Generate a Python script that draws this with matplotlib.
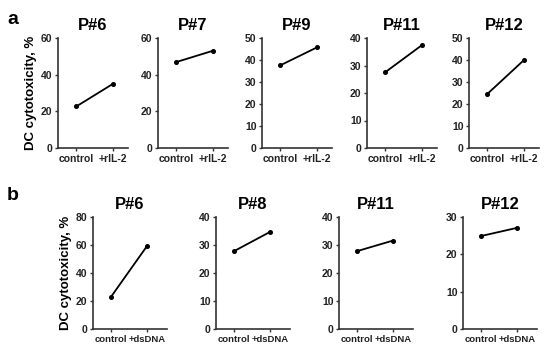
import matplotlib.pyplot as plt

plt.rcParams['font.family'] = ['Liberation Sans', 'DejaVu Sans']
plt.rcParams['font.weight'] = 'bold'

# panel a: control vs +rIL-2
a_titles = ["P#6", "P#7", "P#9", "P#11", "P#12"]
a_control = [22.7, 46.9, 37.6, 27.6, 24.6]
a_treated = [35.1, 53.1, 45.8, 37.5, 40.1]
a_ymax = [60, 60, 50, 40, 50]
a_ystep = [20, 20, 10, 10, 10]
a_xlabels = ["control", "+rIL-2"]

# panel b: control vs +dsDNA
b_titles = ["P#6", "P#8", "P#11", "P#12"]
b_control = [23.0, 27.8, 27.8, 24.9]
b_treated = [59.4, 34.7, 31.6, 27.1]
b_ymax = [80, 40, 40, 30]
b_ystep = [20, 10, 10, 10]
b_xlabels = ["control", "+dsDNA"]

W, H = 550, 350
fig = plt.figure(figsize=(5.5, 3.5), dpi=100)


def panel(left_px, top_px, w_px, h_px, title, c, t, ymax, ystep, xlabels, xmax, xsize):
    ax = fig.add_axes([left_px / W, 1 - (top_px + h_px) / H, w_px / W, h_px / H])
    ax.plot([0, 1], [c, t], color='black', lw=1.3, marker='o', ms=2.6)
    ax.set_xlim(-0.5, xmax)
    ax.set_ylim(0, ymax)
    ax.set_yticks(range(0, ymax + 1, ystep))
    ax.set_xticks([0, 1])
    ax.set_xticklabels(xlabels)
    for s in ['top', 'right']:
        ax.spines[s].set_visible(False)
    for s in ['left', 'bottom']:
        ax.spines[s].set_color('#333333')
        ax.spines[s].set_linewidth(1.2)
    ax.tick_params(axis='both', labelsize=7.5, length=2.5, width=1, color='#333333', pad=1.5)
    ax.tick_params(axis='x', labelsize=xsize)
    for lab in ax.get_xticklabels() + ax.get_yticklabels():
        lab.set_fontweight('bold')
        lab.set_color('#222222')
    ax.set_title(title, fontsize=12, fontweight='bold', pad=6)
    return ax


a_lefts = [58, 158, 262, 367, 469]
for i in range(5):
    ax = panel(a_lefts[i], 38, 70, 110, a_titles[i], a_control[i], a_treated[i],
               a_ymax[i], a_ystep[i], a_xlabels, 1.4, 7.5)
    if i == 0:
        ax.set_ylabel("DC cytotoxicity, %", fontsize=9.5, fontweight='bold', labelpad=3)

b_lefts = [93, 216, 339, 463]
for i in range(4):
    ax = panel(b_lefts[i], 217, 74, 112, b_titles[i], b_control[i], b_treated[i],
               b_ymax[i], b_ystep[i], b_xlabels, 1.55, 6.8)
    if i == 0:
        ax.set_ylabel("DC cytotoxicity, %", fontsize=9.5, fontweight='bold', labelpad=3)

fig.text(7 / W, 1 - 19 / H, "a", fontsize=14, fontweight='bold', va='center')
fig.text(7 / W, 1 - 195 / H, "b", fontsize=14, fontweight='bold', va='center')

fig.savefig("out.png", dpi=100)
